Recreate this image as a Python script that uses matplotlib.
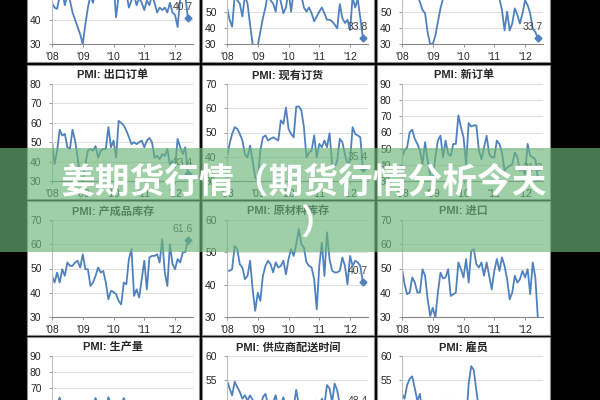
import numpy as np
import matplotlib
matplotlib.use('Agg')
import matplotlib.pyplot as plt
from matplotlib.patches import Rectangle

plt.rcParams['font.family'] = ['Liberation Sans', 'Noto Sans CJK SC']

W, H = 600, 400

# Monthly index, Jan 2008 .. Jun 2012
months = np.arange(54)
year_ticks = [0, 12, 24, 36, 48]
year_labels = ["'08", "'09", "'10", "'11", "'12"]

# Row 1 (titles are cut off at the top of the picture)
pmi_a = [47, 45, 44.5, 50, 52, 46, 50, 48, 43, 40, 37, 34, 30, 38, 45, 50, 47, 52, 49, 49,
         53, 55, 52, 50, 55, 41, 50, 53, 55, 51, 45, 48, 50, 46, 49, 47, 44, 48, 46, 50,
         47, 43, 45, 44, 45, 43, 47, 43, 42, 37, 49, 52, 50, 40.7]
pmi_b = [52.6, 45, 40.7, 60, 57, 55, 47, 60, 55, 42, 30, 28, 29, 37.5, 46, 52.6, 62, 57, 55, 50,
         62, 56, 49, 52.6, 63, 50, 62, 58, 64, 60, 52.6, 50, 52.6, 49, 44, 47, 50, 52.6, 49, 45,
         45, 44, 42, 39.7, 54.7, 46, 43, 45, 38.6, 59, 52.6, 58, 46, 33.8]
pmi_c = [60, 62, 58, 60, 63, 59, 60, 56, 51, 49, 37, 30, 30, 35, 43.7, 52, 58, 60, 62, 59,
         63, 61, 65, 62, 60, 63, 66, 64, 62, 65, 61, 63, 60, 64, 62, 59, 61, 63, 58, 51,
         38.4, 50, 38.4, 42.6, 52, 48, 42.6, 49, 57, 54, 49, 39.5, 37.4, 33.7]

# Row 2
export_orders = [50.8, 38.7, 45.6, 56.4, 53.4, 54.3, 47.4, 46.5, 56.4, 50.8,
                 42, 31.7, 30, 38.7, 45.6, 46.5, 45.6, 48, 42, 45.6,
                 46.5, 46.5, 57.8, 47.4, 50.8, 42, 61, 59.9, 58.6, 56,
                 52.6, 49, 50, 49, 50, 50.8, 47.4, 50.8, 52.2, 50,
                 42, 43, 41.3, 43.9, 43, 46.5, 38.7, 40.4, 37, 51.7,
                 47.4, 43.9, 47.4, 33.4]
backlog_orders = [39.7, 45.3, 49.4, 52.2, 51.5, 49.4, 46.7, 41, 39.7, 44.6,
                  38.3, 31.4, 30, 42.5, 48, 48.8, 46.7, 47.4, 48, 47.4,
                  46.7, 55, 53.6, 60.3, 51.5, 49.4, 48, 60.6, 60.8, 59.2,
                  52.2, 39.7, 41.8, 42.5, 48.8, 39.7, 45.3, 43.9, 46.7, 43.9,
                  49.7, 37, 35.6, 38.3, 47.4, 46, 41, 37, 38.3, 52.2,
                  49.4, 48.8, 48, 35.4]
new_orders = [44.6, 48.8, 50.8, 60.2, 61.7, 56, 52.9, 48.8, 40.4, 54,
              42.5, 34, 30, 44.6, 55, 58, 44.6, 55, 46.7, 45.6,
              52.9, 52.9, 70.6, 63.3, 57, 40.4, 65.8, 63.7, 64.4, 64.4,
              48.8, 43.5, 50.8, 58, 46.7, 44.6, 44.6, 55, 52.9, 47.7,
              36.3, 38.3, 39.4, 40.4, 47.7, 44.6, 36.3, 37.3, 34.2, 52.9,
              45.6, 44.6, 43.5, 31.2]

# Row 3
finished_stock = [47, 44.2, 48.3, 44.2, 49.7, 47, 52.5, 51.1, 51.1, 52.5,
                  53.2, 50.4, 55.9, 49.7, 49.7, 42.8, 44.2, 47, 50.4, 48.3,
                  49, 44.2, 37.3, 40.8, 40.3, 39.4, 36.6, 35.2, 44.2, 43.5,
                  53.9, 58, 38.7, 41.4, 38, 45.6, 53.2, 41.4, 54.6, 55.2,
                  55.2, 55.9, 52.5, 62.1, 48.3, 42.8, 60, 51.8, 49.7, 53.9,
                  52.5, 56.6, 56.8, 61.6]
material_stock = [44.3, 44.3, 44.8, 52, 51, 46.3, 45.3, 41.7, 42.7, 47.4,
                  38.6, 31.9, 37.5, 35, 42.7, 45.8, 47.4, 46.3, 43.8, 46.9,
                  45.3, 45.8, 47.4, 43.2, 47.9, 51, 48.9, 52.5, 57.2, 52.5,
                  51.5, 46.9, 45.8, 45.3, 41.7, 32.4, 45.8, 53, 42.7, 56.2,
                  47.9, 44.3, 43.8, 43.8, 44.3, 48.4, 45.8, 40.1, 48.9, 45.8,
                  47.4, 46.9, 45.8, 40.7]
imports = [50, 43.5, 39.4, 40.1, 46.3, 44.2, 40.1, 40.1, 49.7, 47,
           37.3, 30.4, 33.8, 29.7, 40.1, 48.3, 45.9, 46.3, 49.7, 38.7,
           39.4, 40.1, 52.5, 49.7, 46.3, 53.9, 44.2, 57.3, 58, 51.8,
           50.4, 52.5, 47, 52.5, 47, 41.4, 49, 53.9, 49, 54.6,
           51.1, 45.6, 37.3, 40.1, 47, 44.2, 45.6, 49, 46.3, 49.7,
           39.4, 52.5, 46.3, 29.5]

# Row 4 (mostly below the bottom of the picture)
output = [55, 58, 60, 64.3, 58, 56, 59, 55, 50, 45, 40, 35, 33, 45, 52, 57, 60, 64, 58, 56,
          60, 58, 64.5, 60, 57, 52, 61, 59, 64, 60, 57, 55, 56, 58, 54, 55, 57, 56, 58, 59,
          55, 54, 52, 55, 56, 53, 54, 51, 50, 58, 56, 54, 55, 48]
delivery_times = [55, 53.3, 51.9, 54.7, 53.6, 52.6, 51.2, 51.9, 50.8, 51.9,
                  51, 49, 47, 49, 51.5, 52.2, 50, 49, 50.5, 51.9,
                  49, 50, 51.5, 49, 48, 50, 49.5, 53, 50, 49,
                  48.5, 49.5, 49, 47.5, 48, 50.8, 49, 51.2, 50, 54,
                  53.3, 50.5, 54.3, 52.9, 50, 48, 49, 50, 47.5, 49,
                  48, 50, 49, 48.4]
employment = [52.2, 51.2, 54, 55.3, 55.8, 53.3, 50.8, 52.2, 48, 46,
              43, 41, 42, 44, 46, 47, 50.8, 48, 47, 49,
              48, 50.8, 49, 48, 47, 46, 54.3, 57.9, 57.1, 52.9,
              49, 48, 47, 48, 46, 47, 48, 49, 47, 48,
              46, 47, 48, 47, 46, 45, 47, 48, 46, 47,
              48, 46, 47, 45.4]

titles = [['', '', ''],
          ['PMI: 出口订单', 'PMI: 现有订货', 'PMI: 新订单'],
          ['PMI: 产成品库存', 'PMI: 原材料库存', 'PMI: 进口'],
          ['PMI: 生产量', 'PMI: 供应商配送时间', 'PMI: 雇员']]
series = [[pmi_a, pmi_b, pmi_c],
          [export_orders, backlog_orders, new_orders],
          [finished_stock, material_stock, imports],
          [output, delivery_times, employment]]
y_ranges = [[(30, 70, 10), (30, 90, 10), (30, 90, 10)],
            [(30, 80, 10), (30, 70, 10), (30, 90, 10)],
            [(30, 70, 10), (30, 60, 10), (30, 70, 10)],
            [(30, 90, 10), (40, 60, 5), (40, 60, 5)]]
show_last = [[True, True, True],
             [True, True, True],
             [True, True, False],
             [True, True, True]]

banner_line1 = '姜期货行情（期货行情分析今天'
banner_line2 = '）'

LINE_COLOR = '#4f81bd'


def fig_box(x, y, w, h):
    # pixel box (top-left origin) -> figure fraction
    return [x / W, 1 - (y + h) / H, w / W, h / H]


def draw_panel(fig, x0, y0, pw, ph, title, values, yr, last):
    fig.patches.append(Rectangle(fig_box(x0, y0, pw, ph)[:2], pw / W, ph / H,
                                 transform=fig.transFigure, facecolor='white',
                                 edgecolor='#8c8c8c', linewidth=0.8, zorder=-1))
    if title:
        fig.text((x0 + pw / 2) / W, 1 - (y0 + 10) / H, title, ha='center', va='center',
                 fontsize=8, fontweight='bold', color='#262626')

    ax = fig.add_axes(fig_box(x0 + 25, y0 + 19, 141, 97))
    ax.set_facecolor('none')
    ax.plot(months, values, color=LINE_COLOR, linewidth=1.3)
    if last:
        ax.plot(months[-1], values[-1], marker='D', markersize=3.5, color=LINE_COLOR)
        ax.annotate(f'{values[-1]}', xy=(months[-1], values[-1]), xytext=(-5, 6),
                    textcoords='offset pixels', ha='center', va='bottom',
                    fontsize=7.5, color='#404040', annotation_clip=False)

    ymin, ymax, step = yr
    ax.set_ylim(ymin, ymax)
    ax.set_yticks(np.arange(ymin, ymax + 0.1, step))
    ax.set_xlim(0, 55)
    ax.set_xticks(year_ticks)
    ax.set_xticklabels(year_labels)
    ax.yaxis.grid(True, color='#d9d9d9', linewidth=0.6)
    ax.set_axisbelow(True)
    for side in ['top', 'right']:
        ax.spines[side].set_visible(False)
    ax.spines['left'].set_color('#bfbfbf')
    ax.spines['bottom'].set_color('#868686')
    ax.tick_params(axis='both', labelsize=7.5, labelcolor='#262626', colors='#868686',
                   length=2.5, width=0.6)
    ax.tick_params(axis='y', pad=5)
    ax.tick_params(axis='x', pad=3)
    for lbl in ax.get_xticklabels() + ax.get_yticklabels():
        lbl.set_color('#262626')


def main():
    fig = plt.figure(figsize=(6, 4), dpi=100)
    fig.patch.set_facecolor('black')

    col_x = [27, 202, 377]
    col_w = [172, 172, 173]
    row_y = [-72, 65, 201, 337]
    for r in range(4):
        for c in range(3):
            draw_panel(fig, col_x[c], row_y[r], col_w[c], 134, titles[r][c],
                       series[r][c], y_ranges[r][c], show_last[r][c])

    # Green banner on top of everything
    fig.patches.append(Rectangle((0, 1 - 252 / H), 1, 104 / H, transform=fig.transFigure,
                                 facecolor=(109 / 255, 182 / 255, 121 / 255), alpha=0.66,
                                 edgecolor='none', zorder=10))
    fig.text(304 / W, 1 - 182 / H, banner_line1, ha='center', va='center', fontsize=25,
             fontweight='bold', color='white', family=['Noto Sans CJK SC'], zorder=11)
    fig.text(318 / W, 1 - 224 / H, banner_line2, ha='center', va='center', fontsize=25,
             fontweight='bold', color='white', family=['Noto Sans CJK SC'], zorder=11)

    fig.savefig('out.png', dpi=100, facecolor=fig.get_facecolor())


if __name__ == '__main__':
    main()
